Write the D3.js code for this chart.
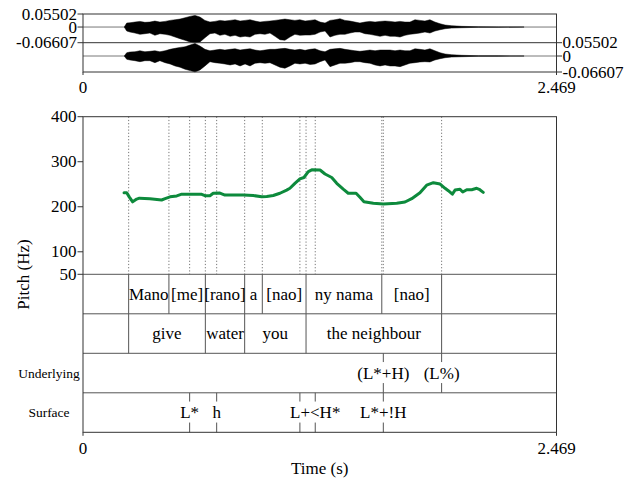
<!DOCTYPE html>
<html>
<head>
<meta charset="utf-8">
<script src="https://cdn.jsdelivr.net/npm/d3@7"></script>
<style>
  body { margin: 0; background: #fff; }
  text { font-family: "Liberation Serif", "Times New Roman", serif; fill: #000; }
</style>
</head>
<body>
<div id="chart"></div>
<script>
var duration = 2.469;

// waveform envelope (amplitude), two channels
var waveTimes = [0.215,0.228,0.245,0.271,0.297,0.323,0.349,0.375,0.401,0.428,
  0.454,0.480,0.506,0.532,0.558,0.584,0.610,0.636,0.662,0.688,
  0.714,0.740,0.767,0.793,0.819,0.845,0.871,0.897,0.923,0.949,
  0.975,1.001,1.027,1.053,1.079,1.105,1.131,1.158,1.184,1.210,
  1.236,1.262,1.288,1.314,1.340,1.366,1.392,1.418,1.444,1.470,
  1.496,1.523,1.549,1.575,1.601,1.627,1.653,1.679,1.705,1.731,
  1.757,1.783,1.809,1.835,1.862,1.888,1.923,1.975,2.061,2.166,2.30];
var ch1Max = [0,.0168,.0181,.0210,.0239,.0197,.0210,.0252,.0210,.0239,
  .0281,.0307,.0336,.0391,.0449,.0491,.0420,.0281,.0210,.0239,
  .0281,.0252,.0281,.0307,.0252,.0281,.0307,.0252,.0210,.0239,
  .0252,.0281,.0307,.0336,.0307,.0281,.0307,.0252,.0281,.0307,
  .0210,.0168,.0281,.0307,.0349,.0281,.0252,.0210,.0168,.0210,
  .0239,.0210,.0239,.0252,.0239,.0210,.0239,.0210,.0210,.0307,
  .0281,.0252,.0307,.0210,.0139,.0084,.0055,.0029,.0013,.0006,0];
var ch1Min = [0,-.0168,-.0210,-.0252,-.0307,-.0281,-.0252,-.0349,-.0281,-.0307,
  -.0349,-.0420,-.0491,-.0559,-.0630,-.0661,-.0630,-.0449,-.0281,-.0252,
  -.0349,-.0307,-.0391,-.0349,-.0420,-.0391,-.0420,-.0307,-.0281,-.0307,
  -.0252,-.0391,-.0533,-.0559,-.0420,-.0307,-.0349,-.0336,-.0336,-.0307,
  -.0210,-.0168,-.0420,-.0349,-.0307,-.0307,-.0252,-.0210,-.0210,-.0281,
  -.0307,-.0349,-.0391,-.0349,-.0391,-.0391,-.0420,-.0349,-.0307,-.0281,
  -.0252,-.0210,-.0252,-.0168,-.0113,-.0071,-.0042,-.0029,-.0013,-.0006,0];
var ch2Max = [0,.0135,.0164,.0176,.0217,.0176,.0193,.0217,.0176,.0217,
  .0275,.0316,.0357,.0381,.0451,.0521,.0410,.0275,.0217,.0246,
  .0275,.0246,.0275,.0299,.0246,.0275,.0299,.0246,.0217,.0246,
  .0275,.0275,.0299,.0316,.0275,.0246,.0275,.0234,.0275,.0299,
  .0217,.0176,.0275,.0299,.0316,.0275,.0246,.0217,.0193,.0217,
  .0246,.0217,.0246,.0246,.0246,.0217,.0246,.0217,.0217,.0299,
  .0275,.0246,.0299,.0217,.0135,.0082,.0053,.0029,.0012,.0006,0];
var ch2Min = [0,-.0135,-.0164,-.0193,-.0234,-.0193,-.0193,-.0275,-.0193,-.0275,
  -.0328,-.0410,-.0463,-.0545,-.0603,-.0656,-.0574,-.0410,-.0234,-.0275,
  -.0299,-.0328,-.0369,-.0328,-.0410,-.0328,-.0410,-.0299,-.0275,-.0299,
  -.0275,-.0369,-.0463,-.0504,-.0410,-.0299,-.0328,-.0299,-.0349,-.0328,
  -.0234,-.0164,-.0439,-.0369,-.0299,-.0299,-.0275,-.0234,-.0234,-.0275,
  -.0299,-.0369,-.0410,-.0369,-.0410,-.0410,-.0439,-.0369,-.0299,-.0275,
  -.0246,-.0234,-.0246,-.0164,-.0111,-.0070,-.0041,-.0029,-.0012,-.0006,0];
var ampTop = 0.05502, ampBottom = -0.06607;

// pitch track
var pitchTimes = [0.214,0.228,0.241,0.259,0.280,0.294,0.349,0.410,0.428,0.454,0.489,0.515,0.558,0.619,0.636,0.662,0.679,0.714,0.740,
  0.836,0.888,0.932,0.958,0.992,1.027,1.062,1.079,1.105,1.131,1.152,1.175,1.193,1.236,1.262,1.297,1.323,1.357,1.383,
  1.424,1.444,1.465,1.514,1.566,1.636,1.679,1.714,1.757,1.792,1.827,1.862,1.888,1.905,1.926,1.940,1.966,1.980,
  2.001,2.027,2.053,2.066,2.087];
var pitchHz = [231,231,222,211,217,219,218,215,218,222,224,228,228,227.6,224.6,224.6,230,230.5,226,
  226,225,222,223,225,230,237,241,252,262,265,278,282,281.6,272.7,265,252,239,230,
  230,221,211,207.6,206,207.6,210.5,218,231,248,253.4,250.5,241,235.7,228,237,238.8,232.7,
  237.8,237.8,241,238.8,232];
var pitchTicks = [400, 300, 200, 100, 50];

// text grid tiers
var wordBounds = [0.238, 0.448, 0.638, 0.843, 0.935, 1.163, 1.558, 1.870];
var wordLabels = ["Mano", "[me]", "[rano]", "a", "[nao]", "ny nama", "[nao]"];
var glossBounds = [0.238, 0.638, 0.843, 1.163, 1.870];
var glossLabels = ["give", "water", "you", "the neighbour"];
var underlyingTimes = [1.566, 1.870];
var underlyingLabels = ["(L*+H)", "(L%)"];
var surfaceTimes = [0.556, 0.697, 1.131, 1.211, 1.566];
var surfaceLabels = ["L*", "h", "", "L+<H*", "L*+!H"];
var tierNames = ["", "", "Underlying", "Surface"];

var svg = d3.select("#chart").append("svg")
    .attr("width", 636)
    .attr("height", 479);

var left = 83, right = 556.5;
var x = d3.scaleLinear().domain([0, duration]).range([left, right]);

var frameColor = "#333";

// ---- waveform ----
var channels = [
  {max: ch1Max, min: ch1Min, top: 14, bottom: 42.7, side: "left"},
  {max: ch2Max, min: ch2Min, top: 42.7, bottom: 72, side: "right"}
];

channels.forEach(function(ch) {
  var y = d3.scaleLinear().domain([ampBottom, ampTop]).range([ch.bottom, ch.top]);
  var env = waveTimes.map(function(t, i) { return {t: t, hi: ch.max[i], lo: ch.min[i]}; });

  svg.append("line")
    .attr("x1", left).attr("x2", right)
    .attr("y1", y(0)).attr("y2", y(0))
    .attr("stroke", "#555").attr("stroke-width", 0.8);

  svg.append("path")
    .datum(env)
    .attr("d", d3.area()
      .x(function(d) { return x(d.t); })
      .y0(function(d) { return y(d.lo); })
      .y1(function(d) { return y(d.hi); }))
    .attr("fill", "#000")
    .attr("stroke", "#000")
    .attr("stroke-width", 0.5);

  var tx = ch.side == "left" ? left : right;
  var dir = ch.side == "left" ? -1 : 1;
  [ampTop, 0, ampBottom].forEach(function(v) {
    svg.append("line")
      .attr("x1", tx).attr("x2", tx + dir * 5.5)
      .attr("y1", y(v)).attr("y2", y(v))
      .attr("stroke", frameColor);
    svg.append("text")
      .attr("x", tx + dir * 6)
      .attr("y", y(v) + 5.5)
      .attr("text-anchor", ch.side == "left" ? "end" : "start")
      .style("font-size", "17px")
      .text(v == 0 ? "0" : v);
  });
});

svg.append("rect")
  .attr("x", left).attr("y", 14)
  .attr("width", right - left).attr("height", 72 - 14)
  .attr("fill", "none").attr("stroke", frameColor);
svg.append("line")
  .attr("x1", left).attr("x2", right).attr("y1", 42.7).attr("y2", 42.7)
  .attr("stroke", frameColor);

[0, duration].forEach(function(v) {
  svg.append("line")
    .attr("x1", x(v)).attr("x2", x(v)).attr("y1", 72).attr("y2", 75)
    .attr("stroke", frameColor);
  svg.append("text")
    .attr("x", x(v)).attr("y", 93)
    .attr("text-anchor", "middle")
    .style("font-size", "17px")
    .text(v);
});

// ---- pitch + tiers ----
var pitchTop = 116.7, pitchBottom = 274.3, tierH = 39.5;
var y = d3.scaleLinear().domain([50, 400]).range([pitchBottom, pitchTop]);
var frameBottom = pitchBottom + tierH * 4;

// dotted boundary lines through the pitch area
var allMarks = Array.from(new Set(wordBounds.concat(glossBounds, underlyingTimes, surfaceTimes)));
svg.append("g").selectAll("line")
  .data(allMarks)
  .enter()
  .append("line")
    .attr("x1", function(d) { return x(d); })
    .attr("x2", function(d) { return x(d); })
    .attr("y1", pitchTop)
    .attr("y2", pitchBottom)
    .attr("stroke", "#666")
    .attr("stroke-width", 0.9)
    .attr("stroke-dasharray", "1.2,2");

// pitch curve
var pitch = pitchTimes.map(function(t, i) { return {t: t, hz: pitchHz[i]}; });
svg.append("path")
  .datum(pitch)
  .attr("d", d3.line()
    .x(function(d) { return x(d.t); })
    .y(function(d) { return y(d.hz); }))
  .attr("fill", "none")
  .attr("stroke", "#0d8a3c")
  .attr("stroke-width", 3)
  .attr("stroke-linejoin", "round")
  .attr("stroke-linecap", "round");

// pitch axis
pitchTicks.forEach(function(v) {
  svg.append("line")
    .attr("x1", left - 5.5).attr("x2", left)
    .attr("y1", y(v)).attr("y2", y(v))
    .attr("stroke", frameColor);
  svg.append("text")
    .attr("x", left - 6.5).attr("y", y(v) + 5.5)
    .attr("text-anchor", "end")
    .style("font-size", "17px")
    .text(v);
});

// tier separators and names
for (var i = 0; i < 4; i++) {
  svg.append("line")
    .attr("x1", left).attr("x2", right)
    .attr("y1", pitchBottom + i * tierH).attr("y2", pitchBottom + i * tierH)
    .attr("stroke", "#555");
  svg.append("text")
    .attr("x", 49)
    .attr("y", pitchBottom + i * tierH + tierH / 2 + 4.5)
    .attr("text-anchor", "middle")
    .style("font-size", "13.5px")
    .text(tierNames[i]);
}

function intervalTier(idx, bounds, labels) {
  var y0 = pitchBottom + idx * tierH, y1 = y0 + tierH;
  var g = svg.append("g");
  g.selectAll("line")
    .data(bounds)
    .enter()
    .append("line")
      .attr("x1", function(d) { return x(d); })
      .attr("x2", function(d) { return x(d); })
      .attr("y1", y0).attr("y2", y1)
      .attr("stroke", "#555");
  g.selectAll("text")
    .data(labels)
    .enter()
    .append("text")
      .attr("x", function(d, k) { return x((bounds[k] + bounds[k + 1]) / 2); })
      .attr("y", (y0 + y1) / 2 + 5.5)
      .attr("text-anchor", "middle")
      .style("font-size", "17px")
      .text(function(d) { return d; });
}

function pointTier(idx, times, labels) {
  var y0 = pitchBottom + idx * tierH, y1 = y0 + tierH, yc = (y0 + y1) / 2;
  var g = svg.append("g");
  times.forEach(function(t, k) {
    g.append("line")
      .attr("x1", x(t)).attr("x2", x(t)).attr("y1", y0).attr("y2", yc - 11)
      .attr("stroke", "#555");
    g.append("line")
      .attr("x1", x(t)).attr("x2", x(t)).attr("y1", yc + 10).attr("y2", y1)
      .attr("stroke", "#555");
    g.append("text")
      .attr("x", x(t)).attr("y", yc + 5.5)
      .attr("text-anchor", "middle")
      .style("font-size", "17px")
      .text(labels[k]);
  });
}

intervalTier(0, wordBounds, wordLabels);
intervalTier(1, glossBounds, glossLabels);
pointTier(2, underlyingTimes, underlyingLabels);
pointTier(3, surfaceTimes, surfaceLabels);

// outer frame
svg.append("rect")
  .attr("x", left).attr("y", pitchTop)
  .attr("width", right - left).attr("height", frameBottom - pitchTop)
  .attr("fill", "none").attr("stroke", frameColor);

[0, duration].forEach(function(v) {
  svg.append("line")
    .attr("x1", x(v)).attr("x2", x(v)).attr("y1", frameBottom).attr("y2", frameBottom + 3.5)
    .attr("stroke", frameColor);
  svg.append("text")
    .attr("x", x(v)).attr("y", frameBottom + 21.7)
    .attr("text-anchor", "middle")
    .style("font-size", "17px")
    .text(v);
});

svg.append("text")
  .attr("x", (left + right) / 2).attr("y", 474)
  .attr("text-anchor", "middle")
  .style("font-size", "17px")
  .text("Time (s)");

svg.append("text")
  .attr("transform", "translate(29," + (pitchTop + frameBottom) / 2 + ") rotate(-90)")
  .attr("text-anchor", "middle")
  .style("font-size", "17px")
  .text("Pitch (Hz)");
</script>
</body>
</html>
